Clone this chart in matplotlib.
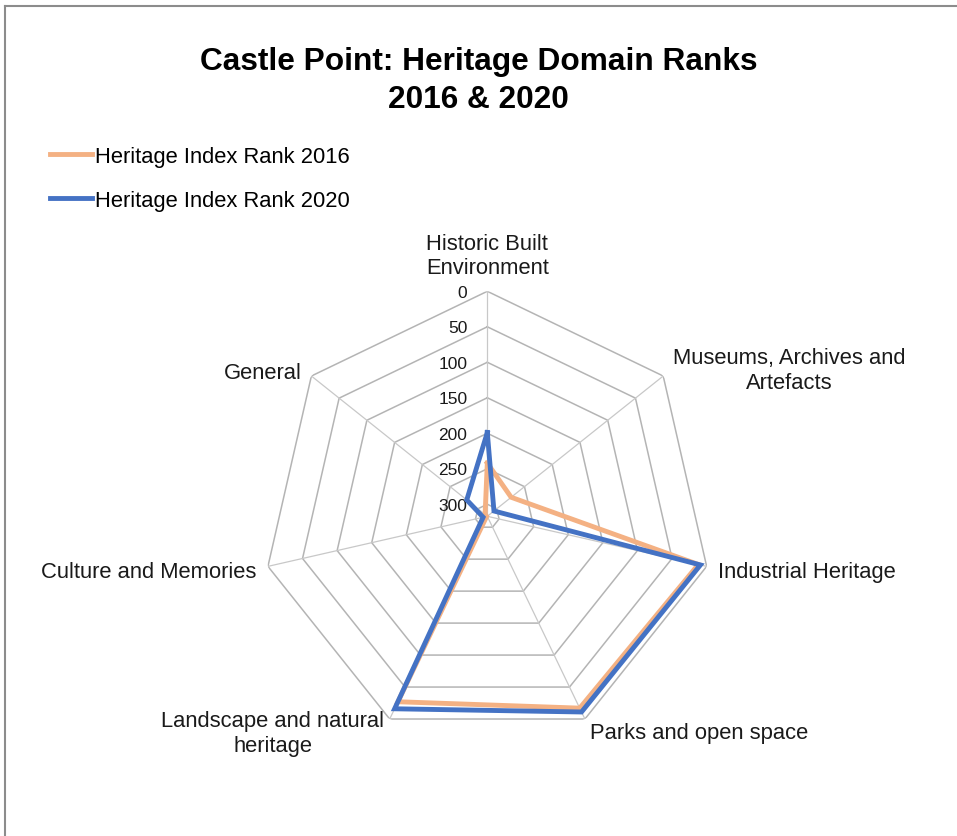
import numpy as np
import matplotlib
matplotlib.use("Agg")
import matplotlib.pyplot as plt
from matplotlib.lines import Line2D

plt.rcParams['font.family'] = ['Liberation Sans', 'DejaVu Sans']

categories = ["Historic Built\nEnvironment", "Museums, Archives and\nArtefacts",
              "Industrial Heritage", "Parks and open space",
              "Landscape and natural\nheritage", "Culture and Memories", "General"]
rank_2016 = [242, 274, 12, 17, 27, 316, 313]
rank_2020 = [199, 305, 9, 11, 16, 311, 280]
series_names = ["Heritage Index Rank 2016", "Heritage Index Rank 2020"]
tick_values = [0, 50, 100, 150, 200, 250, 300]
r_max = 317

c2016 = "#F4B183"
c2020 = "#4472C4"

W, H = 957, 837
fig = plt.figure(figsize=(W / 100, H / 100), dpi=100)

# chart border (top and left visible)
fig.add_artist(Line2D([5 / W, 5 / W], [0, 1 - 7 / H], color="#8C8C8C", lw=1.5))
fig.add_artist(Line2D([5 / W, 1], [1 - 7 / H, 1 - 7 / H], color="#8C8C8C", lw=1.5))

cx, cy, R = 487.3, 517.3, 225
ax = fig.add_axes([(cx - R) / W, (H - cy - R) / H, 2 * R / W, 2 * R / H], projection="polar")
ax.set_theta_zero_location("N")
ax.set_theta_direction(-1)
ax.set_ylim(r_max, 0)
ax.grid(False)
ax.spines["polar"].set_visible(False)
ax.set_xticks([])
ax.set_yticks([])
ax.patch.set_visible(False)

n = len(categories)
theta = np.linspace(0, 2 * np.pi, n, endpoint=False)
theta_c = np.append(theta, theta[0])

# polygonal rings
for v in tick_values:
    ax.plot(theta_c, [v] * (n + 1), color="#B4B4B4", lw=1.1, zorder=1)
# spokes
for t in theta:
    ax.plot([t, t], [r_max, 0], color="#C8C8C8", lw=0.9, zorder=1)

ax.plot(theta_c, rank_2016 + rank_2016[:1], color=c2016, lw=3.5, zorder=3,
        solid_joinstyle="miter", label=series_names[0])
ax.plot(theta_c, rank_2020 + rank_2020[:1], color=c2020, lw=3.5, zorder=4,
        solid_joinstyle="miter", label=series_names[1])

# radial tick labels
for v in tick_values:
    ax.annotate(str(v), xy=(0, v), xytext=(-20, -1), textcoords="offset pixels",
                ha="right", va="center", fontsize=12.5, color="#1a1a1a",
                annotation_clip=False)

# category labels
label_specs = [
    dict(off=(0, 13), ha="center", va="bottom"),
    dict(off=(126, 6), ha="center", va="center"),
    dict(off=(11, -5), ha="left", va="center"),
    dict(off=(5, -13), ha="left", va="center"),
    dict(off=(-117, -14), ha="center", va="center"),
    dict(off=(-12, -5), ha="right", va="center"),
    dict(off=(-10, 4), ha="right", va="center"),
]
for t, lab, spec in zip(theta, categories, label_specs):
    ax.annotate(lab, xy=(t, 0), xytext=spec["off"], textcoords="offset pixels",
                ha=spec["ha"], va=spec["va"], multialignment="center",
                fontsize=15.8, color="#1a1a1a", annotation_clip=False,
                linespacing=1.2)

fig.text(0.5, 1 - 81 / H, "Castle Point: Heritage Domain Ranks\n2016 & 2020",
         ha="center", va="center", fontsize=22.8, fontweight="bold",
         linespacing=1.35)

handles = [Line2D([], [], color=c2016, lw=3.5), Line2D([], [], color=c2020, lw=3.5)]
fig.legend(handles, series_names, loc="upper left",
           bbox_to_anchor=(50 / W, 1 - 147 / H), frameon=False,
           fontsize=15.8, handlelength=1.9, handletextpad=0.15,
           labelspacing=1.03, borderaxespad=0, borderpad=0)

fig.savefig("out.png", dpi=100, facecolor="white")
